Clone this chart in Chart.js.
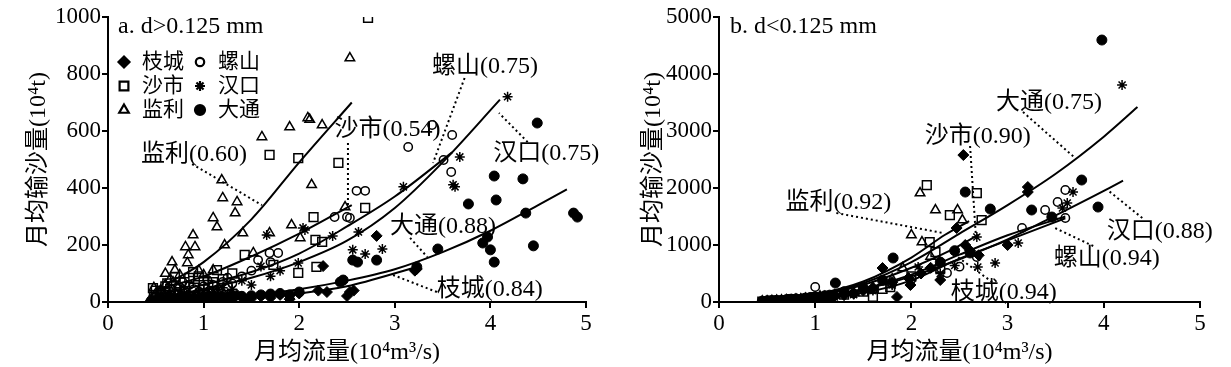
<!DOCTYPE html>
<html>
<head>
<meta charset="utf-8">
<script src="https://cdn.jsdelivr.net/npm/chart.js@4.4.0/dist/chart.umd.min.js"></script>
<style>
  html, body { margin: 0; padding: 0; background: #fff; }
  #wrap { position: relative; width: 1231px; height: 367px; }
  .panel { position: absolute; top: 0; height: 367px; }
</style>
</head>
<body>
<div id="wrap">
  <div class="panel" style="left:0;width:615px"><canvas id="chartA"></canvas></div>
  <div class="panel" style="left:615px;width:616px"><canvas id="chartB"></canvas></div>
</div>
<script>
// stations (legend order) and axis ticks
const stations = ['枝城', '螺山', '沙市', '汉口', '监利', '大通'];
const xTicks = [0, 1, 2, 3, 4, 5];
const yTicksA = [0, 200, 400, 600, 800, 1000];
const yTicksB = [0, 1000, 2000, 3000, 4000, 5000];

// panel a: d>0.125 mm, [flow 10^4 m3/s, load 10^4 t]
const aZhicheng = [[2.81,232],[3.23,116],[2.53,35],[2.57,40],[2.25,126],[2.29,35],[2.50,21],[3.21,110],
  [0.5,3],[0.6,5],[0.7,8],[0.8,6],[0.9,10],[1.0,12],[1.1,8],[1.2,15],[1.3,10],[1.4,18],[1.5,12],[1.6,20],
  [1.7,15],[1.8,25],[1.9,10],[2.0,30],[2.2,40],[0.55,15],[0.75,20],[1.05,25],
  [0.45,5],[0.52,10],[0.58,2],[0.62,12],[0.68,4],[0.85,15],[0.95,5],[1.15,20],[1.25,5],[1.35,25],[1.45,8]];
const aLuoshan = [[3.39,621],[3.60,586],[3.14,544],[3.59,456],[3.51,498],[2.60,390],[2.69,390],[2.53,295],
  [2.37,298],[2.50,298],[1.78,172],[1.69,172],[1.57,147],[1.04,77],[0.78,70],[0.5,20],[0.6,35],[0.7,30],
  [0.9,45],[1.0,55],[1.1,60],[1.2,70],[1.4,90],[1.5,110],[1.7,140],[1.3,65],[0.8,40],
  [0.47,15],[0.55,40],[0.65,25],[0.75,50],[0.85,60],[0.95,35],[1.15,45],[1.25,85]];
const aShashi = [[2.72,997],[1.69,516],[1.99,505],[2.41,488],[2.15,298],[1.43,165],[1.73,130],[1.99,102],
  [2.18,123],[2.17,218],[2.24,211],[1.14,112],[0.89,105],[0.47,49],[0.70,88],[2.69,330],[0.5,40],[0.55,30],
  [0.6,55],[0.8,70],[0.9,50],[1.05,60],[1.2,80],[1.3,100],[0.65,45],[1.0,75],
  [0.48,20],[0.58,25],[0.62,65],[0.75,35],[0.85,85],[0.95,90],[1.1,70],[1.25,55]];
const aHankou = [[4.18,720],[3.68,509],[3.61,411],[3.63,404],[3.09,404],[2.62,246],[2.56,183],[2.69,168],
  [2.87,186],[2.06,253],[2.35,232],[1.66,235],[2.04,260],[1.99,137],[0.5,10],[0.6,20],[0.7,15],[0.8,30],
  [0.9,25],[1.0,40],[1.1,35],[1.2,50],[1.3,45],[1.5,60],[1.7,90],[1.4,75],[1.6,125],[1.8,110],
  [0.45,5],[0.55,15],[0.65,30],[0.75,10],[0.85,20],[0.95,35],[1.05,20],[1.15,45],[1.25,30]];
const aJianli = [[2.53,856],[1.90,614],[2.09,646],[2.11,640],[2.24,621],[1.61,579],[1.19,428],[1.20,365],
  [1.35,351],[1.33,312],[1.10,295],[1.14,263],[1.41,242],[0.89,235],[0.81,193],[0.91,193],[0.84,165],
  [1.22,200],[0.67,140],[0.83,137],[0.70,112],[1.92,270],[2.13,411],[1.69,242],[2.01,225],[2.48,333],
  [1.52,172],[1.10,112],[0.60,60],[0.55,40],[0.65,80],[0.75,95],[0.95,110],[1.0,95],[0.6,100],[0.5,30],[0.72,55],
  [0.48,50],[0.58,20],[0.68,70],[0.78,45]];
const aDatong = [[4.49,628],[4.04,442],[4.34,432],[3.77,344],[4.06,358],[4.37,312],[4.87,312],[4.91,298],
  [3.97,228],[3.92,207],[4.00,183],[4.04,140],[4.45,197],[3.45,186],[3.23,123],[2.56,147],[2.61,140],
  [2.81,147],[2.43,70],[2.46,77],[0.5,5],[0.7,8],[0.9,12],[1.1,15],[1.3,20],[1.5,22],[1.6,25],[1.7,28],
  [1.8,30],[1.9,25],[2.0,35],[1.2,18],[1.4,20],
  [0.45,3],[0.55,8],[0.6,4],[0.65,10],[0.75,5],[0.8,12],[0.85,8],[0.95,10],[1.0,16],[1.05,9]];

// panel a fitted curves
const aFitZhicheng = [[0.5,3],[1.0,8],[1.5,16],[2.0,30],[2.5,55],[3.2,120]];
const aFitLuoshan = [[0.5,25],[1.0,60],[1.5,105],[2.0,170],[2.5,265],[3.0,370],[3.6,525]];
const aFitShashi = [[0.5,45],[1.0,90],[1.5,160],[2.0,240],[2.55,340]];
const aFitHankou = [[0.5,15],[1.0,45],[1.5,85],[2.0,140],[2.5,215],[3.0,330],[3.5,490],[4.1,710]];
const aFitJianli = [[0.6,60],[1.0,140],[1.5,290],[2.0,490],[2.55,700]];
const aFitDatong = [[0.5,5],[1.0,12],[1.5,25],[2.0,45],[2.5,75],[3.0,115],[3.5,175],[4.0,250],[4.5,340],[4.8,395]];

// panel b: d<0.125 mm
const bZhicheng = [[2.54,2578],[3.21,2017],[3.21,1930],[2.47,1298],[2.56,1000],[2.61,900],[1.70,596],[1.85,88],
  [2.30,386],[1.99,298],[1.97,420],[0.5,10],[0.6,20],[0.7,25],[0.8,40],[0.9,50],[1.0,60],[1.1,70],[1.2,100],
  [1.3,120],[1.4,150],[1.5,200],[1.6,250],[1.8,350],[2.1,500],[2.2,600],[2.7,820],[3.0,1000],
  [0.45,5],[0.55,15],[0.65,10],[0.75,30],[0.85,20],[0.95,45],[1.05,35],[1.15,60]];
const bLuoshan = [[3.6,1965],[3.52,1754],[3.39,1614],[3.6,1473],[3.15,1298],[2.68,789],[2.37,509],[1.0,263],
  [0.5,15],[0.6,25],[0.7,35],[0.8,50],[0.9,70],[1.1,90],[1.2,110],[1.4,150],[1.6,220],[1.8,320],[2.0,400],[2.5,620],
  [0.45,10],[0.55,20],[0.65,15],[0.75,40],[0.85,30],[0.95,60],[1.05,80],[1.15,50]];
const bShashi = [[2.16,2052],[2.68,1912],[2.73,1438],[2.4,1526],[2.19,1052],[2.25,877],[1.6,88],[1.78,263],
  [0.5,10],[0.6,20],[0.7,30],[0.8,40],[0.9,60],[1.0,80],[1.1,90],[1.3,130],[1.5,180],[1.7,230],[2.0,450],[2.3,600],
  [0.45,8],[0.55,25],[0.65,20],[0.75,50],[0.85,35],[0.95,70],[1.05,55],[1.15,100]];
const bHankou = [[4.19,3806],[3.68,1930],[3.62,1736],[3.57,1650],[3.11,1035],[2.68,1140],[2.87,684],[2.69,614],
  [2.07,614],[0.5,10],[0.6,15],[0.7,25],[0.8,35],[0.9,45],[1.0,60],[1.1,70],[1.2,90],[1.4,130],[1.6,200],
  [1.8,300],[2.3,500],[2.45,640],
  [0.45,5],[0.55,10],[0.65,20],[0.75,15],[0.85,40],[0.95,30],[1.05,50],[1.15,80]];
const bJianli = [[2.09,1912],[2.25,1614],[2.48,1614],[2.53,1438],[2.0,1175],[2.11,1052],[1.91,596],
  [0.5,15],[0.6,25],[0.7,35],[0.8,45],[0.9,60],[1.0,75],[1.1,90],[1.2,120],[1.4,160],[1.6,240],[1.8,400],[2.2,800],
  [0.45,12],[0.55,20],[0.65,30],[0.75,25],[0.85,50],[0.95,45],[1.05,100],[1.15,70]];
const bDatong = [[3.98,4596],[2.56,1929],[2.82,1631],[3.77,2140],[3.25,1614],[3.94,1666],[3.46,1491],[2.61,860],
  [1.81,772],[1.21,333],[0.5,20],[0.6,30],[0.7,40],[0.8,55],[0.9,70],[1.0,90],[1.1,110],[1.3,180],[1.5,250],
  [1.7,380],[2.3,700],[2.45,900],
  [0.45,15],[0.55,25],[0.65,30],[0.75,50],[0.85,45],[0.95,80],[1.05,70],[1.15,120]];

const bFitZhicheng = [[0.5,5],[1.0,50],[1.5,160],[2.0,380],[2.5,760],[3.0,1080],[3.6,1470]];
const bFitLuoshan = [[0.5,10],[1.0,80],[1.5,230],[2.0,480],[2.5,830],[3.0,1170],[3.6,1500]];
const bFitShashi = [[0.5,15],[1.0,100],[1.5,300],[2.0,600],[2.4,900],[2.7,1180]];
const bFitHankou = [[0.5,10],[1.0,80],[1.5,220],[2.0,450],[2.5,750],[3.0,1100],[3.5,1520],[4.0,1950],[4.2,2130]];
const bFitJianli = [[0.5,20],[1.0,130],[1.5,360],[2.0,780],[2.35,1180],[2.6,1420]];
const bFitDatong = [[0.5,20],[1.0,120],[1.5,330],[2.0,700],[2.5,1200],[3.0,1700],[3.5,2250],[4.0,2900],[4.35,3420]];

// curve labels: text, text anchor, dotted leader from -> to (data units)
const aNotes = [
  { text: '监利(0.60)', at: [0.345, 516], from: [0.88, 484], to: [1.61, 340] },
  { text: '沙市(0.54)', at: [2.37, 604], from: [2.51, 558], to: [2.51, 333] },
  { text: '螺山(0.75)', at: [3.39, 825], from: [3.73, 786], to: [3.40, 488] },
  { text: '汉口(0.75)', at: [4.03, 519], from: [4.39, 561], to: [4.09, 663] },
  { text: '大通(0.88)', at: [2.95, 263], from: [3.16, 225], to: [3.34, 158] },
  { text: '枝城(0.84)', at: [3.44, 42], from: [3.44, 35], to: [2.98, 95] }
];
const bNotes = [
  { text: '大通(0.75)', at: [2.88, 3490], from: [3.16, 3333], to: [3.69, 2543] },
  { text: '沙市(0.90)', at: [2.14, 2894], from: [2.61, 2736], to: [2.67, 1158] },
  { text: '监利(0.92)', at: [0.69, 1736], from: [1.22, 1561], to: [2.33, 1210] },
  { text: '汉口(0.88)', at: [4.03, 1228], from: [4.40, 1473], to: [4.04, 1964] },
  { text: '螺山(0.94)', at: [3.48, 754], from: [3.89, 982], to: [3.47, 1316] },
  { text: '枝城(0.94)', at: [2.41, 158], from: [2.84, 351], to: [2.48, 789] }
];

const FONT = "'Liberation Serif', 'Noto Sans CJK SC', serif";
const CLEAR = 'rgba(0,0,0,0)';
const markers = [
  { pointStyle: 'rectRot', radius: 5.5, fill: '#000', borderWidth: 1 },
  { pointStyle: 'circle', radius: 4.2, fill: CLEAR, borderWidth: 1.5 },
  { pointStyle: 'rect', radius: 6.2, fill: CLEAR, borderWidth: 1.5 },
  { pointStyle: 'star', radius: 5, fill: CLEAR, borderWidth: 1.5 },
  { pointStyle: 'triangle', radius: 5.5, fill: CLEAR, borderWidth: 1.5 },
  { pointStyle: 'circle', radius: 5, fill: '#000', borderWidth: 1 }
];

function pointSet(label, data, m) {
  return {
    label: label, data: data.map(p => ({ x: p[0], y: p[1] })),
    pointStyle: m.pointStyle, pointRadius: m.radius, pointBackgroundColor: m.fill,
    pointBorderColor: '#000', pointBorderWidth: m.borderWidth, showLine: false
  };
}
function curveSet(data) {
  return {
    data: data.map(p => ({ x: p[0], y: p[1] })), showLine: true, pointRadius: 0,
    borderColor: '#000', borderWidth: 2, tension: 0.4, cubicInterpolationMode: 'monotone', fill: false
  };
}

const decor = {
  id: 'decor',
  afterDraw(chart) {
    const o = chart.options.plugins.decor;
    const ctx = chart.ctx, xs = chart.scales.x, ys = chart.scales.y;
    ctx.save();
    ctx.fillStyle = '#000';
    ctx.textBaseline = 'middle';
    ctx.textAlign = 'left';
    ctx.font = '24px ' + FONT;
    ctx.fillText(o.title, o.titlePos[0], o.titlePos[1]);
    // leaders
    o.notes.forEach(n => {
      ctx.save();
      ctx.setLineDash([2, 3]);
      ctx.lineWidth = 2;
      ctx.strokeStyle = '#000';
      ctx.beginPath();
      ctx.moveTo(xs.getPixelForValue(n.from[0]), ys.getPixelForValue(n.from[1]));
      ctx.lineTo(xs.getPixelForValue(n.to[0]), ys.getPixelForValue(n.to[1]));
      ctx.stroke();
      ctx.restore();
      ctx.font = '24px ' + FONT;
      ctx.fillText(n.text, xs.getPixelForValue(n.at[0]), ys.getPixelForValue(n.at[1]));
    });
    // legend: two columns, three rows
    if (o.legend) {
      ctx.font = '21px ' + FONT;
      stations.forEach((s, i) => {
        const col = i % 2, row = Math.floor(i / 2);
        const mx = 124 + col * 76, my = 62 + row * 24;
        const m = markers[i];
        ctx.fillStyle = m.fill;
        ctx.strokeStyle = '#000';
        ctx.lineWidth = 2.2;
        Chart.helpers.drawPoint(ctx, { pointStyle: m.pointStyle, radius: m.radius, borderWidth: 2.2, rotation: 0 }, mx, my);
        ctx.fillStyle = '#000';
        ctx.fillText(s, mx + 18, my);
      });
    }
    ctx.restore();
  }
};

function makeChart(id, sets, fits, yTicks, yWidth, padRight, decorOpts) {
  const datasets = [];
  sets.forEach((d, i) => datasets.push(pointSet(stations[i], d, markers[i])));
  fits.forEach(f => datasets.push(curveSet(f)));
  return new Chart(document.getElementById(id), {
    type: 'scatter',
    data: { datasets: datasets },
    plugins: [decor],
    options: {
      responsive: true, maintainAspectRatio: false, animation: false,
      layout: { padding: { top: 17, right: padRight, left: 0, bottom: 0 } },
      plugins: { legend: { display: false }, tooltip: { enabled: false }, decor: decorOpts },
      scales: {
        x: {
          type: 'linear', min: xTicks[0], max: xTicks[xTicks.length - 1],
          afterFit: s => { s.height = 65; },
          ticks: { stepSize: 1, padding: 2, color: '#000', font: { family: FONT, size: 23 }, callback: v => String(v) },
          grid: { drawOnChartArea: false, drawTicks: true, tickLength: 6, color: '#000', lineWidth: 2 },
          border: { color: '#000', width: 2 },
          title: { display: true, text: '月均流量(10⁴m³/s)', color: '#000', font: { family: FONT, size: 24 }, padding: { top: 0, bottom: 0 } }
        },
        y: {
          type: 'linear', min: yTicks[0], max: yTicks[yTicks.length - 1],
          afterFit: s => { s.width = yWidth; },
          ticks: { stepSize: yTicks[1] - yTicks[0], padding: 1, color: '#000', font: { family: FONT, size: 23 }, callback: v => String(v) },
          grid: { drawOnChartArea: false, drawTicks: true, tickLength: 6, color: '#000', lineWidth: 2 },
          border: { color: '#000', width: 2 },
          title: { display: true, text: '月均输沙量(10⁴t)', color: '#000', font: { family: FONT, size: 24 }, padding: { top: 24, bottom: 0 } }
        }
      }
    }
  });
}

makeChart('chartA',
  [aZhicheng, aLuoshan, aShashi, aHankou, aJianli, aDatong],
  [aFitZhicheng, aFitLuoshan, aFitShashi, aFitHankou, aFitJianli, aFitDatong],
  yTicksA, 108, 29,
  { title: 'a. d>0.125 mm', titlePos: [118, 27], notes: aNotes, legend: true });

makeChart('chartB',
  [bZhicheng, bLuoshan, bShashi, bHankou, bJianli, bDatong],
  [bFitZhicheng, bFitLuoshan, bFitShashi, bFitHankou, bFitJianli, bFitDatong],
  yTicksB, 104, 31,
  { title: 'b. d<0.125 mm', titlePos: [115, 27], notes: bNotes, legend: false });
</script>
</body>
</html>
